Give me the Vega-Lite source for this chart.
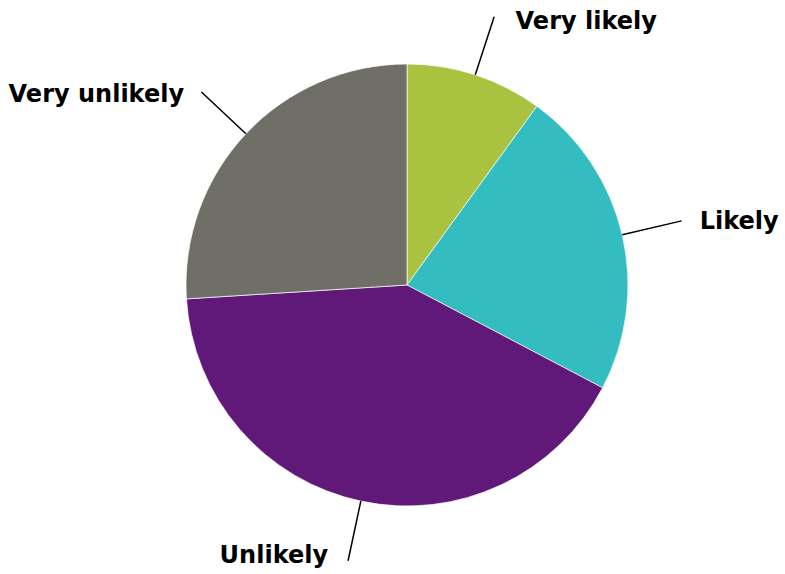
{
  "$schema": "https://vega.github.io/schema/vega-lite/v6.json",
  "width": 756,
  "height": 570,
  "autosize": {"type": "none"},
  "padding": {"left": 29, "top": 0, "right": 0, "bottom": 0},
  "background": "white",
  "view": {"stroke": null},
  "data": {
    "values": [
      {"label": "Very likely", "order": 1, "value": 10},
      {"label": "Likely", "order": 2, "value": 22.7},
      {"label": "Unlikely", "order": 3, "value": 41.3},
      {"label": "Very unlikely", "order": 4, "value": 26}
    ]
  },
  "transform": [
    {"stack": "value", "groupby": [], "sort": [{"field": "order", "order": "ascending"}], "as": ["v0", "v1"], "offset": "zero"}
  ],
  "layer": [
    {
      "mark": {"type": "arc", "outerRadius": 221, "stroke": "white", "strokeWidth": 0.7},
      "encoding": {
        "theta": {"field": "v0", "type": "quantitative", "stack": null, "scale": {"domain": [0, 100]}},
        "theta2": {"field": "v1"},
        "color": {
          "field": "label",
          "type": "nominal",
          "scale": {
            "domain": ["Very likely", "Likely", "Unlikely", "Very unlikely"],
            "range": ["#a9c23f", "#33bdc0", "#611979", "#6f6f67"]
          },
          "legend": null
        }
      }
    },
    {
      "transform": [
        {"fold": ["v0", "v1"], "as": ["edgeName", "edge"]},
        {"aggregate": [{"op": "mean", "field": "edge", "as": "mid"}], "groupby": ["label", "order"]}
      ],
      "mark": {"type": "arc", "outerRadius": 282, "innerRadius": 221, "filled": false, "stroke": "black", "strokeWidth": 1.5},
      "encoding": {
        "theta": {"field": "mid", "type": "quantitative", "stack": null, "scale": {"domain": [0, 100]}},
        "theta2": {"field": "mid"}
      }
    },
    {
      "transform": [
        {"fold": ["v0", "v1"], "as": ["edgeName", "edge"]},
        {"aggregate": [{"op": "mean", "field": "edge", "as": "mid"}], "groupby": ["label", "order"]},
        {"filter": "datum.order <= 2"}
      ],
      "mark": {"type": "text", "radius": 277, "dx": 23, "align": "left", "baseline": "middle", "font": "DejaVu Sans", "fontWeight": "bold", "fontSize": 24, "color": "black"},
      "encoding": {
        "theta": {"field": "mid", "type": "quantitative", "stack": null, "scale": {"domain": [0, 100]}},
        "text": {"field": "label"}
      }
    },
    {
      "transform": [
        {"fold": ["v0", "v1"], "as": ["edgeName", "edge"]},
        {"aggregate": [{"op": "mean", "field": "edge", "as": "mid"}], "groupby": ["label", "order"]},
        {"filter": "datum.order >= 3"}
      ],
      "mark": {"type": "text", "radius": 277, "dx": -21, "align": "right", "baseline": "middle", "font": "DejaVu Sans", "fontWeight": "bold", "fontSize": 24, "color": "black"},
      "encoding": {
        "theta": {"field": "mid", "type": "quantitative", "stack": null, "scale": {"domain": [0, 100]}},
        "text": {"field": "label"}
      }
    }
  ]
}
